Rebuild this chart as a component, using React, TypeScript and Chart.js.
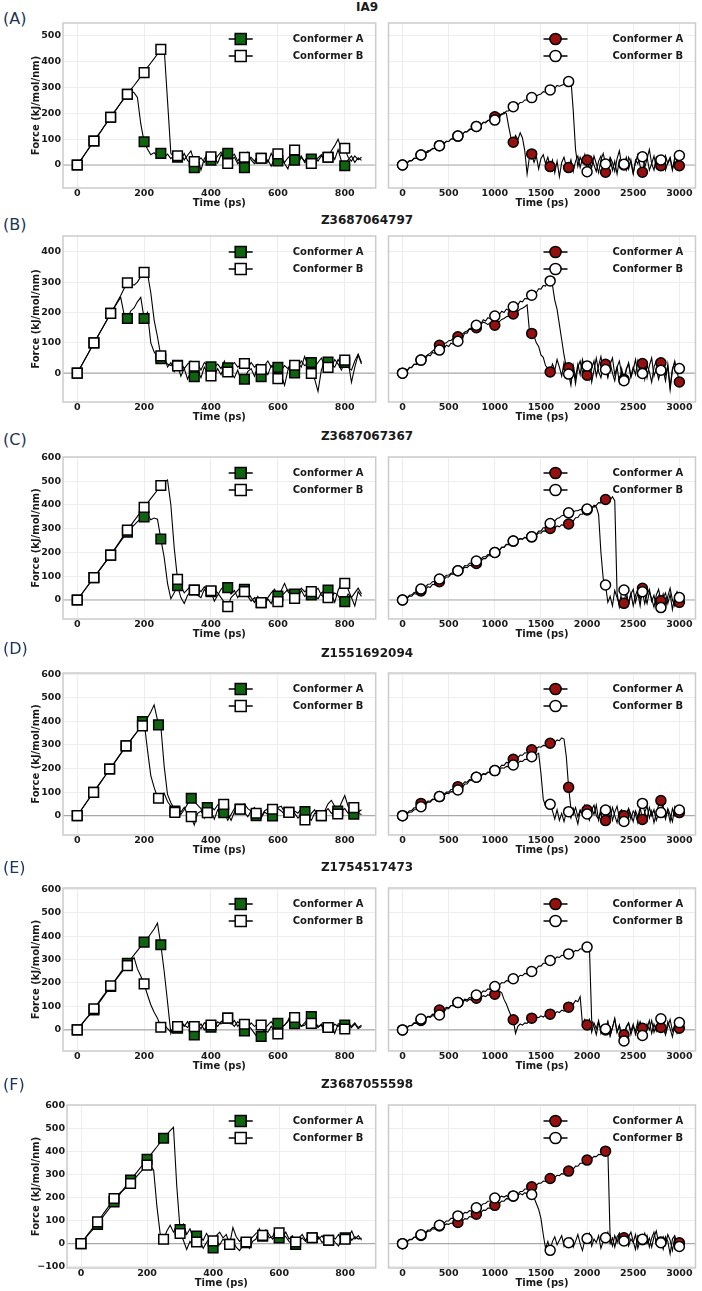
import React, { useEffect, useRef } from 'react';
import { Chart, registerables } from 'chart.js';

Chart.register(...registerables);

const FONT = "'DejaVu Sans', 'Liberation Sans', Arial, sans-serif";
Chart.defaults.font.family = FONT;

// ---- sampling grids (ps) ------------------------------------------------
const SHORT_STEP = 10; // spacing of the 0–850 ps force traces
const LONG_STEP = 25; // spacing of the 0–3000 ps force traces

const MARK_T_SHORT = [0, 50, 100, 150, 200, 250, 300, 350, 400, 450, 500, 550, 600, 650, 700, 750, 800];
const MARK_T_SHORT_D = [0, 49, 97, 146, 195, 243, 292, 341, 389, 438, 487, 535, 584, 633, 681, 730, 779, 827];
const MARK_T_LONG = [0, 200, 400, 600, 800, 1000, 1200, 1400, 1600, 1800, 2000, 2200, 2400, 2600, 2800, 3000];

const X_TICKS_SHORT = [0, 200, 400, 600, 800];
const X_TICKS_LONG = [0, 500, 1000, 1500, 2000, 2500, 3000];
const Y_TICKS_500 = [0, 100, 200, 300, 400, 500];
const Y_TICKS_400 = [0, 100, 200, 300, 400];
const Y_TICKS_600 = [0, 100, 200, 300, 400, 500, 600];
const Y_TICKS_NEG = [-100, 0, 100, 200, 300, 400, 500, 600];

const COMPOUNDS = ['IA9', 'Z3687064797', 'Z3687067367', 'Z1551692094', 'Z1754517473', 'Z3687055598'];
const PANEL_TAGS = ['(A)', '(B)', '(C)', '(D)', '(E)', '(F)'];
const SERIES_NAMES = ['Conformer A', 'Conformer B'];

// ---- IA9 -----------------------------------------------------------------
const IA9_S_A = [0,17,36,55,75,93,110,128,148,166, 185,203,222,240,258,275,288,280,262,160, 90,62,40,48,32,45,30,42,25,38, 30,20,45,18,5,-10,15,28,10,35, 19,30,8,40,22,45,20,30,5,18, -10,12,30,15,35,26,8,20,-5,25, 16,32,10,28,40,19,5,30,15,35, 23,12,28,40,18,30,45,22,60,15, -3,20,35,10,28,18];
const IA9_S_B = [0,18,37,56,74,93,112,130,149,167, 185,204,221,240,257,274,292,308,325,342, 358,378,395,412,430,448,452,250,45,30, 36,45,20,38,55,13,30,-20,25,40, 32,15,35,50,20,6,30,42,15,35, 30,50,20,5,30,26,40,10,45,20, 43,25,5,-15,30,58,20,35,10,25, 6,30,15,35,20,30,55,75,100,60, 65,30,15,35,20,30];
const IA9_SM_A = [0,93,185,274,90,45,30,-10,19,45,-10,26,16,19,23,30,-3];
const IA9_SM_B = [0,93,185,274,358,448,36,13,32,6,30,26,43,58,6,30,65];
const IA9_L_A = [0,6,8,16,17,25,26,34, 39,41,50,49,58,62,64,72, 75,80,84,92,91,100,103,106, 112,118,119,128,130,135,142,141, 149,155,154,164,166,172,176,180, 187,189,198,194,205,200,150,105, 88,115,98,125,105,55,-35,30, 43,10,35,-15,25,40,5,30, -6,20,-30,15,-45,10,30,-5, -10,20,-25,15,35,-10,25,5, 19,-20,30,0,-25,15,35,-10, -28,10,25,-20,15,-35,20,5, 0,30,-15,20,-30,10,40,-5, -28,15,30,-20,5,35,-10,20, -3,25,-20,10,30,-15,15,-5, -3];
const IA9_L_B = [0,7,8,17,17,27,27,36, 39,46,46,56,55,65,64,73, 75,83,82,92,91,101,101,110, 112,120,119,129,128,139,138,148, 149,157,155,166,163,173,170,179, 174,187,187,198,198,209,209,222, 226,232,233,242,243,252,252,256, 261,269,267,272,275,284,282,291, 291,300,297,308,305,309,313,321, 323,332,210,60,-5,30,10,40, -26,15,-10,35,5,-30,20,45, 4,-15,30,10,-25,25,55,0, 3,-20,30,10,-35,20,5,40, 32,-10,25,60,5,-20,30,10, 19,-15,35,5,25,-20,30,15, 37];
const IA9_LM_A = [0,39,75,112,149,187,88,43,-6,-10,19,-28,0,-28,-3,-3];
const IA9_LM_B = [0,39,75,112,149,174,226,261,291,323,-26,4,3,32,19,37];

// ---- Z3687064797 ---------------------------------------------------------
const Z064_S_A = [0,20,40,60,80,100,119,138,158,178, 197,215,232,250,195,180,205,215,235,250, 180,200,100,70,55,48,60,20,35,5, 26,-10,15,-20,5,-12,10,-15,20,0, 21,-10,15,-5,25,18,0,-15,10,-25, -20,5,15,-10,20,-12,10,-5,25,15, 19,-5,-40,10,30,1,35,20,55,25, 35,-20,-60,10,40,37,20,45,30,10, 35,40,-30,20,60,30];
const Z064_S_B = [0,19,39,59,80,100,118,138,157,177, 197,216,236,256,278,298,295,290,300,318, 332,330,265,175,120,57,45,30,25,40, 24,35,15,30,40,23,30,10,35,25, -9,20,30,15,40,4,25,35,20,30, 32,15,35,20,30,12,25,40,20,30, -18,10,25,15,35,26,20,40,25,30, -1,20,35,50,25,19,30,20,45,25, 43,20,10,40,63,35];
const Z064_SM_A = [0,100,197,180,180,48,26,-12,21,18,-20,-12,19,1,35,37,35];
const Z064_SM_B = [0,100,197,298,332,57,24,23,-9,4,32,12,-18,26,-1,19,43];
const Z064_L_A = [0,7,10,18,20,29,31,38, 43,51,55,61,66,73,78,86, 92,90,97,100,107,108,115,116, 120,127,129,136,139,146,145,149, 150,158,162,168,165,160,166,160, 158,166,170,177,180,186,188,193, 195,201,204,211,214,219,225,140, 131,122,100,88,60,52,25,15, 4,30,10,45,20,-10,35,5, 18,-20,15,-35,20,40,0,25, -7,20,-30,10,50,5,-15,20, 29,-10,35,0,-25,20,40,-5, -20,15,30,-15,10,45,-5,20, 32,-20,25,5,-30,20,40,0, 34,10,-25,30,-45,15,35,5, -29];
const Z064_L_B = [0,8,7,19,18,30,28,41, 43,50,48,60,57,68,65,77, 76,84,81,92,88,99,95,106, 105,117,117,132,132,146,145,157, 158,166,163,176,172,183,179,190, 188,197,193,204,200,211,207,219, 219,228,225,237,235,246,245,256, 257,266,265,278,277,289,287,302, 304,290,240,210,160,110,60,20, -3,-40,25,-15,30,-5,45,10, 24,-20,15,40,-10,25,55,5, 12,-15,30,50,-5,20,-30,15, -25,10,35,-10,20,-5,40,0, -1,30,-15,25,50,-10,15,-20, 10,35,-5,20,-55,10,40,0, 15];
const Z064_LM_A = [0,43,92,120,150,158,195,131,4,18,-7,29,-20,32,34,-29];
const Z064_LM_B = [0,43,76,105,158,188,219,257,304,-3,24,12,-25,-1,10,15];

// ---- Z3687067367 ---------------------------------------------------------
const Z367_S_A = [0,19,38,57,76,94,113,132,151,170, 189,208,228,248,267,285,300,315,330,342, 350,360,338,345,340,257,180,70,5,30, 60,10,-15,20,35,42,20,10,45,25, 35,-5,20,45,60,52,25,40,10,30, 45,35,10,-10,15,-11,-20,10,30,45, 17,40,70,35,20,25,10,40,15,30, 21,35,50,20,10,42,15,30,20,-10, -7,25,10,-25,35,15];
const Z367_S_B = [0,19,38,57,76,94,113,133,152,170, 189,210,231,252,273,294,313,333,352,372, 390,408,427,445,463,482,495,505,400,220, 87,60,30,45,60,42,50,35,55,40, 39,45,30,10,-10,-28,10,25,40,55, 35,15,-5,10,-20,-11,-25,5,-15,20, -7,15,30,45,20,7,30,50,35,45, 35,20,5,30,40,10,25,-10,40,70, 70,45,10,30,50,25];
const Z367_SM_A = [0,94,189,285,350,257,60,42,35,52,45,-11,17,25,21,42,-7];
const Z367_SM_B = [0,94,189,294,390,482,87,42,39,-28,35,-11,-7,7,35,10,70];
const Z367_L_A = [0,7,6,17,16,27,25,36, 38,46,45,56,53,66,64,75, 77,86,86,97,97,109,109,121, 123,130,128,138,136,146,144,153, 154,163,163,174,174,186,186,197, 200,209,209,221,221,233,233,245, 248,253,251,259,255,264,259,267, 266,273,272,283,281,291,290,300, 301,307,303,312,308,317,313,321, 320,331,332,346,347,361,361,375, 379,388,387,399,398,410,409,421, 423,431,421,435,418,30,-30,10, -14,40,-20,25,45,-10,30,-25, 49,20,-15,35,5,-30,20,45, -3,25,-35,15,50,0,-25,20, -10];
const Z367_L_B = [0,8,10,20,22,32,34,44, 46,54,56,66,67,77,79,89, 88,95,96,104,105,113,115,122, 123,133,133,145,144,155,155,165, 164,172,173,182,182,191,191,201, 200,210,210,223,223,235,235,247, 248,252,252,258,257,263,262,268, 266,276,276,290,290,304,304,318, 322,330,333,343,346,355,357,366, 367,372,371,376,376,381,380,385, 383,389,386,393,392,360,200,90, 63,-10,15,-25,40,10,-20,35, 42,15,-10,30,-25,20,45,0, 35,-15,25,45,-5,20,-30,15, -32,10,30,-15,25,-40,15,35, 10];
const Z367_LM_A = [0,38,77,123,154,200,248,266,301,320,379,423,-14,49,-3,-10];
const Z367_LM_B = [0,46,88,123,164,200,248,266,322,367,383,63,42,35,-32,10];

// ---- Z1551692094 ---------------------------------------------------------
const Z094_S_A = [0,20,41,61,82,101,122,142,162,183, 203,222,243,263,283,303,320,338,357,385, 400,415,440,470,405,380,210,90,55,30, 20,5,25,50,74,60,45,30,-10,34, 20,-15,25,10,13,-20,5,30,45,28, 15,-5,20,35,0,-10,15,5,-1,20, 35,40,15,14,-5,20,10,30,17,-5, -20,10,5,0,20,50,65,40,20,55, 85,40,15,6,10,5];
const Z094_S_B = [0,20,40,61,81,101,121,141,162,182, 202,222,242,262,283,303,320,340,358,375, 400,280,170,120,78,70,95,60,40,14, 30,15,35,5,-4,-40,10,20,-5,13, 40,25,45,60,48,10,-20,15,35,27, 50,30,20,5,10,-5,20,30,27,10, 30,20,5,14,30,10,-10,5,-18,-35, 10,25,-5,0,15,30,10,25,7,20, 30,10,20,34,15,25];
const Z094_SM_A = [0,99,198,296,399,385,20,74,34,13,28,0,-1,14,17,0,20,6];
const Z094_SM_B = [0,99,198,296,381,74,14,-4,13,48,27,10,27,14,-18,0,7,34];
const Z094_L_A = [0,9,11,21,22,33,34,45, 52,55,54,62,61,70,69,79, 81,89,90,100,100,111,111,121, 123,132,132,143,142,153,152,162, 163,170,168,177,174,184,181,190, 191,202,201,214,213,226,225,237, 239,247,246,257,256,267,266,277, 279,285,284,292,290,298,296,304, 307,314,310,321,318,330,325,250, 120,30,5,35,-5,25,10,45, 24,-15,30,5,45,-20,15,-35, -21,20,-10,35,0,-30,15,25, 0,-20,30,5,-25,20,-5,35, -16,15,40,-10,20,-30,10,45, 64,20,-15,30,5,-25,35,0, 13];
const Z094_L_B = [0,6,8,15,16,25,26,34, 38,46,47,57,57,68,69,79, 81,87,86,95,93,102,101,110, 109,120,121,134,134,148,149,161, 163,170,170,178,177,185,184,192, 191,197,196,203,201,209,207,214, 215,222,222,231,230,239,238,247, 250,255,258,265,180,70,40,55, 48,20,-15,25,-20,10,-25,15, 17,-10,30,0,-35,20,5,35, 7,-20,25,45,0,-15,30,10, 24,-5,35,-20,15,40,-10,20, -25,10,30,-15,20,5,-30,25, 52,15,-10,35,0,25,-20,10, 13,40,-5,20,-25,30,0,15, 24];
const Z094_LM_A = [0,52,81,123,163,191,239,279,307,120,24,-21,0,-16,64,13];
const Z094_LM_B = [0,38,81,109,163,191,215,250,48,17,7,24,-25,52,13,24];

// ---- Z1754517473 ---------------------------------------------------------
const Z473_S_A = [0,17,35,52,68,85,105,125,145,165, 185,205,225,245,265,284,302,320,338,356, 374,390,410,430,455,363,250,120,-15,20, 7,30,15,35,5,-21,10,25,0,20, 11,30,15,35,45,50,25,40,15,30, -4,20,5,-15,-35,-28,5,20,35,15, 28,10,20,35,60,26,40,15,30,45, 57,30,10,25,-5,10,20,-15,25,30, 21,35,10,25,5,15];
const Z473_S_B = [0,18,36,54,72,90,110,130,149,168, 188,205,222,240,258,274,290,308,260,230, 196,150,107,75,50,11,25,5,-10,20, 14,35,20,10,30,14,25,5,30,20, 21,10,35,25,45,50,30,15,35,20, 24,10,30,15,25,21,0,-10,15,-5, -17,10,20,40,70,53,30,15,20,40, 28,35,15,20,-10,10,0,25,15,35, 4,25,15,30,10,20];
const Z473_SM_A = [0,85,185,284,374,363,7,-21,11,50,-4,-28,28,26,57,10,21];
const Z473_SM_B = [0,90,188,274,196,11,14,14,21,50,24,21,-17,53,28,10,4];
const Z473_L_A = [0,8,9,18,18,28,28,37, 40,48,48,58,57,67,66,76, 85,88,87,96,94,104,102,112, 117,121,118,126,122,130,127,134, 135,142,138,146,142,150,146,154, 152,160,165,158,130,110,85,60, 43,-15,15,25,20,30,28,38, 50,45,55,52,60,55,63,60, 67,72,68,78,74,84,80,90, 97,115,110,125,120,142,25,45, 21,45,-10,30,5,40,-15,20, 0,35,-25,10,45,-10,20,-30, -21,15,30,-5,25,-20,10,35, 7,-15,25,0,40,-10,20,5, 10,30,-20,15,45,-5,20,-15, 7];
const Z473_L_B = [0,8,10,19,20,30,31,41, 46,50,49,56,53,61,58,66, 64,75,77,90,90,104,104,116, 117,124,122,131,128,138,136,145, 149,157,156,166,164,175,173,183, 185,193,192,202,200,210,208,217, 218,226,224,233,231,241,239,248, 249,259,260,272,272,284,284,295, 296,303,302,311,309,318,316,324, 324,332,330,339,337,346,344,352, 353,358,40,15,-20,30,5,-15, 4,35,-25,10,50,-10,20,-35, -47,10,30,-20,15,-5,35,-30, -24,20,5,40,-15,25,-5,30, 47,10,-20,35,5,-30,20,45, 31];
const Z473_LM_A = [0,40,85,117,135,152,43,50,67,97,21,0,-21,7,10,7];
const Z473_LM_B = [0,46,64,117,149,185,218,249,296,324,353,4,-47,-24,47,31];

// ---- Z3687055598 ---------------------------------------------------------
const Z598_S_A = [0,18,36,52,68,84,104,124,143,162, 182,200,220,240,258,277,295,313,331,349, 367,386,404,422,441,459,476,492,507,250, 61,85,40,65,20,33,10,-20,5,25, -19,10,-5,20,5,-3,10,-15,-30,-10, 4,15,30,45,55,33,60,40,20,35, 25,45,30,10,-5,-3,15,25,10,35, 26,10,30,5,20,15,25,5,-10,20, 25,40,15,30,20,25];
const Z598_S_B = [0,20,40,58,77,95,115,135,155,176, 197,210,224,236,250,262,278,295,312,327, 342,340,320,160,40,19,55,80,50,75, 44,15,-25,10,-10,7,30,15,45,20, 12,35,50,25,40,-3,70,30,10,25, 7,-20,10,20,65,36,50,25,30,60, 47,30,50,20,35,7,25,40,15,30, 26,45,20,35,10,15,30,20,40,10, 19,30,55,20,35,15];
const Z598_SM_A = [0,84,182,277,367,459,61,33,-19,-3,4,33,25,-3,26,15,25];
const Z598_SM_B = [0,95,197,262,342,19,44,7,12,-3,7,36,47,7,26,15,19];
const Z598_L_A = [0,7,8,17,17,27,27,35, 36,44,44,55,54,65,64,75, 77,82,80,86,84,90,88,94, 92,100,99,109,107,118,116,126, 128,136,136,146,145,155,155,165, 167,175,175,186,185,196,195,205, 207,216,216,227,227,238,238,248, 248,255,254,264,263,273,271,282, 284,290,289,298,296,305,303,312, 316,325,325,338,337,350,350,362, 364,371,370,380,379,389,388,398, 403,410,25,-10,35,5,45,15, 26,-5,30,50,10,-25,35,20, 17,45,0,25,-15,30,55,5, 7,30,-5,40,15,-30,25,10, 4];
const Z598_L_B = [0,8,9,19,19,29,29,38, 39,48,49,59,60,70,70,80, 80,88,89,99,99,110,110,120, 121,127,126,136,134,144,142,152, 156,163,164,174,175,185,186,196, 199,205,201,207,203,209,205,210, 208,214,210,218,213,222,216,230, 214,200,175,150,110,40,-20,10, -29,10,30,-5,15,35,-10,20, 4,25,-15,10,40,0,-30,15, 22,45,-10,20,5,35,-20,10, 26,50,0,25,-15,30,45,-5, 12,35,-10,20,5,40,-20,15, 19,0,35,-15,25,50,5,20, 4,-25,30,10,-45,20,35,0, -12];
const Z598_LM_A = [0,36,77,92,128,167,207,248,284,316,364,403,26,17,7,4];
const Z598_LM_B = [0,39,80,121,156,199,208,214,-29,4,22,26,12,19,4,-12];

// ---- styling -------------------------------------------------------------
const INK = '#1a1a1a';
const GRID = '#ededed';
const FRAME = '#cbcbcb';
const ZERO_LINE = '#a9a9a9';
const GREEN = '#0f650f';
const RED = '#961010';
const TICK_FONT = { family: FONT, size: 9.5, weight: 'bold' as const };
const LABEL_FONT = { family: FONT, size: 10, weight: 'bold' as const };

const fmt = (v: number) => (v < 0 ? '\u2212' + Math.abs(v) : String(v));

type Trace = { a: number[]; b: number[]; t: number[]; ma: number[]; mb: number[] };
type Row = {
  tag: string; name: string; tagY: number; nameY: number;
  top: number; bottom: number; axisLeft: number;
  yMin: number; yMax: number; yTicks: number[];
  short: Trace; long: Trace;
};

const ROWS: Row[] = [
  { tag: PANEL_TAGS[0], name: COMPOUNDS[0], tagY: 19, nameY: 7, top: 23, bottom: 188, axisLeft: 63, yMin: -89, yMax: 550, yTicks: Y_TICKS_500,
    short: { a: IA9_S_A, b: IA9_S_B, t: MARK_T_SHORT, ma: IA9_SM_A, mb: IA9_SM_B },
    long: { a: IA9_L_A, b: IA9_L_B, t: MARK_T_LONG, ma: IA9_LM_A, mb: IA9_LM_B } },
  { tag: PANEL_TAGS[1], name: COMPOUNDS[1], tagY: 225, nameY: 220, top: 236, bottom: 402, axisLeft: 63, yMin: -95, yMax: 452, yTicks: Y_TICKS_400,
    short: { a: Z064_S_A, b: Z064_S_B, t: MARK_T_SHORT, ma: Z064_SM_A, mb: Z064_SM_B },
    long: { a: Z064_L_A, b: Z064_L_B, t: MARK_T_LONG, ma: Z064_LM_A, mb: Z064_LM_B } },
  { tag: PANEL_TAGS[2], name: COMPOUNDS[2], tagY: 440, nameY: 436, top: 457, bottom: 619, axisLeft: 63, yMin: -80, yMax: 602, yTicks: Y_TICKS_600,
    short: { a: Z367_S_A, b: Z367_S_B, t: MARK_T_SHORT, ma: Z367_SM_A, mb: Z367_SM_B },
    long: { a: Z367_L_A, b: Z367_L_B, t: MARK_T_LONG, ma: Z367_LM_A, mb: Z367_LM_B } },
  { tag: PANEL_TAGS[3], name: COMPOUNDS[3], tagY: 649, nameY: 653, top: 673, bottom: 835, axisLeft: 63, yMin: -82, yMax: 605, yTicks: Y_TICKS_600,
    short: { a: Z094_S_A, b: Z094_S_B, t: MARK_T_SHORT_D, ma: Z094_SM_A, mb: Z094_SM_B },
    long: { a: Z094_L_A, b: Z094_L_B, t: MARK_T_LONG, ma: Z094_LM_A, mb: Z094_LM_B } },
  { tag: PANEL_TAGS[4], name: COMPOUNDS[4], tagY: 868, nameY: 867, top: 888, bottom: 1051, axisLeft: 63, yMin: -90, yMax: 605, yTicks: Y_TICKS_600,
    short: { a: Z473_S_A, b: Z473_S_B, t: MARK_T_SHORT, ma: Z473_SM_A, mb: Z473_SM_B },
    long: { a: Z473_L_A, b: Z473_L_B, t: MARK_T_LONG, ma: Z473_LM_A, mb: Z473_LM_B } },
  { tag: PANEL_TAGS[5], name: COMPOUNDS[5], tagY: 1085, nameY: 1084, top: 1105, bottom: 1268, axisLeft: 67, yMin: -106, yMax: 604, yTicks: Y_TICKS_NEG,
    short: { a: Z598_S_A, b: Z598_S_B, t: MARK_T_SHORT, ma: Z598_SM_A, mb: Z598_SM_B },
    long: { a: Z598_L_A, b: Z598_L_B, t: MARK_T_LONG, ma: Z598_LM_A, mb: Z598_LM_B } },
];

const PAD_TOP = 14;
const X_AXIS_H = 24;

type PanelProps = { row: Row; kind: 'short' | 'long' };

function Panel({ row, kind }: PanelProps) {
  const ref = useRef<HTMLCanvasElement>(null);
  const isShort = kind === 'short';
  const box = {
    left: isShort ? 24 : 382,
    top: row.top - PAD_TOP,
    width: isShort ? 360 : 320,
    height: row.bottom - row.top + PAD_TOP + X_AXIS_H,
  };

  useEffect(() => {
    const tr = isShort ? row.short : row.long;
    const step = isShort ? SHORT_STEP : LONG_STEP;
    const fillA = isShort ? GREEN : RED;
    const shape = isShort ? 'rect' : 'circle';
    const radius = isShort ? 6.8 : 5;
    const trace = (vals: number[]) => vals.map((y, i) => ({ x: i * step, y }));
    const marks = (vals: number[]) => vals.map((y, i) => ({ x: tr.t[i], y }));

    const decor = {
      id: 'panelDecor',
      beforeDatasetsDraw(chart: any) {
        const { ctx, chartArea: ca, scales } = chart;
        const y0 = scales.y.getPixelForValue(0);
        ctx.save();
        ctx.strokeStyle = ZERO_LINE;
        ctx.lineWidth = 1.2;
        ctx.beginPath();
        ctx.moveTo(ca.left, y0);
        ctx.lineTo(ca.right, y0);
        ctx.stroke();
        ctx.strokeStyle = FRAME;
        ctx.lineWidth = 1.5;
        ctx.strokeRect(ca.left, ca.top, ca.right - ca.left, ca.bottom - ca.top);
        ctx.restore();
      },
      afterDraw(chart: any) {
        const { ctx, chartArea: ca } = chart;
        const fills = [fillA, '#ffffff'];
        ctx.save();
        SERIES_NAMES.forEach((name, i) => {
          const cy = ca.top + 16 + i * 17;
          const mx = ca.right - (isShort ? 135 : 140);
          ctx.strokeStyle = '#000';
          ctx.lineWidth = 1.5;
          ctx.beginPath();
          ctx.moveTo(mx - 12, cy);
          ctx.lineTo(mx + 12, cy);
          ctx.stroke();
          ctx.fillStyle = fills[i];
          ctx.beginPath();
          if (isShort) ctx.rect(mx - 5.5, cy - 5.5, 11, 11);
          else ctx.arc(mx, cy, 5.6, 0, Math.PI * 2);
          ctx.fill();
          ctx.stroke();
          ctx.fillStyle = INK;
          ctx.font = `bold 10px ${FONT}`;
          ctx.textBaseline = 'middle';
          ctx.textAlign = 'left';
          ctx.fillText(name, ca.right - 83, cy);
        });
        ctx.restore();
      },
    };

    const markerSet = (data: any[], fill: string, order: number, label: string) => ({
      label,
      data,
      showLine: false,
      pointStyle: shape,
      pointRadius: radius,
      pointHoverRadius: radius,
      pointBackgroundColor: fill,
      pointBorderColor: '#000',
      pointBorderWidth: 1.5,
      order,
    });
    const lineSet = (data: any[], order: number, label: string) => ({
      label,
      data,
      borderColor: '#000',
      borderWidth: 1.1,
      pointRadius: 0,
      pointHoverRadius: 0,
      tension: 0,
      fill: false,
      order,
    });

    const chart = new Chart(ref.current as HTMLCanvasElement, {
      type: 'line',
      data: {
        datasets: [
          markerSet(marks(tr.mb), '#ffffff', 0, SERIES_NAMES[1]),
          markerSet(marks(tr.ma), fillA, 1, SERIES_NAMES[0]),
          lineSet(trace(tr.b), 2, SERIES_NAMES[1] + ' trace'),
          lineSet(trace(tr.a), 3, SERIES_NAMES[0] + ' trace'),
        ] as any,
      },
      options: {
        animation: false,
        responsive: true,
        maintainAspectRatio: false,
        events: [],
        layout: { padding: { top: PAD_TOP, right: 2, bottom: 0, left: isShort ? 0 : 2 } },
        plugins: { legend: { display: false }, tooltip: { enabled: false } },
        scales: {
          x: {
            type: 'linear',
            min: isShort ? -42.5 : -152,
            max: isShort ? 892.5 : 3175,
            afterBuildTicks: (s: any) => {
              s.ticks = (isShort ? X_TICKS_SHORT : X_TICKS_LONG).map((value) => ({ value }));
            },
            afterFit: (s: any) => {
              s.height = X_AXIS_H;
            },
            grid: { color: GRID, lineWidth: 1, drawTicks: false },
            border: { display: false },
            ticks: {
              font: TICK_FONT, color: INK, padding: 0, autoSkip: false, maxRotation: 0, minRotation: 0,
              callback: (v: any) => fmt(Number(v)),
            },
            title: { display: true, text: 'Time (ps)', font: LABEL_FONT, color: INK, padding: { top: 0, bottom: 3 } },
          },
          y: {
            type: 'linear',
            min: row.yMin,
            max: row.yMax,
            afterBuildTicks: (s: any) => {
              s.ticks = row.yTicks.map((value) => ({ value }));
            },
            afterFit: (s: any) => {
              s.width = isShort ? row.axisLeft - 24 : 0;
            },
            grid: { color: GRID, lineWidth: 1, drawTicks: false },
            border: { display: false },
            ticks: {
              display: isShort, font: TICK_FONT, color: INK, padding: 2,
              callback: (v: any) => fmt(Number(v)),
            },
            title: {
              display: isShort, text: 'Force (kJ/mol/nm)', font: LABEL_FONT, color: INK,
              padding: { top: 6, bottom: 0 },
            },
          },
        },
      } as any,
      plugins: [decor],
    });
    return () => chart.destroy();
  }, []);

  return (
    <div style={{ position: 'absolute', left: box.left, top: box.top, width: box.width, height: box.height }}>
      <canvas ref={ref} />
    </div>
  );
}

export default function App() {
  return (
    <div style={{ position: 'absolute', left: 0, top: 0, width: 702, height: 1291, background: '#ffffff', overflow: 'hidden' }}>
      {ROWS.map((row) => (
        <React.Fragment key={row.name}>
          <div
            style={{
              position: 'absolute', left: 3, top: row.tagY, transform: 'translateY(-50%)',
              font: `16px ${FONT}`, color: '#1d3557', lineHeight: 1, whiteSpace: 'nowrap',
            }}
          >
            {row.tag}
          </div>
          <div
            style={{
              position: 'absolute', left: 367, top: row.nameY, transform: 'translate(-50%, -50%)',
              font: `bold 12px ${FONT}`, color: INK, lineHeight: 1, whiteSpace: 'nowrap',
            }}
          >
            {row.name}
          </div>
          <Panel row={row} kind="short" />
          <Panel row={row} kind="long" />
        </React.Fragment>
      ))}
    </div>
  );
}
